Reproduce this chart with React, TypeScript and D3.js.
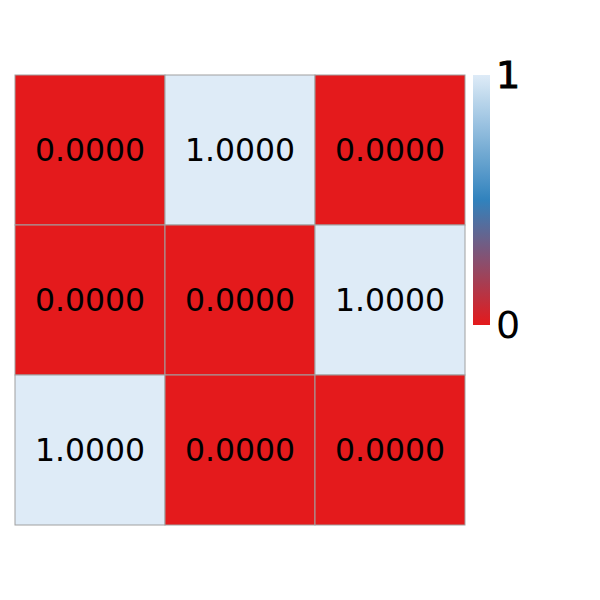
import React from "react";
import * as d3 from "d3";

const rows = ["r1", "r2", "r3"];
const cols = ["c1", "c2", "c3"];
const values: number[][] = [
  [0, 1, 0],
  [0, 0, 1],
  [1, 0, 0],
];
const legendTicks = [0, 1];

export default function App() {
  const W = 600, H = 600;
  const x = d3.scaleBand<string>().domain(cols).range([15, 465]);
  const y = d3.scaleBand<string>().domain(rows).range([75, 525]);
  const color = d3
    .scaleLinear<string>()
    .domain([0, 0.5, 1])
    .range(["#e41a1c", "#3182bd", "#deebf7"]);
  const ly = d3.scaleLinear().domain([0, 1]).range([325, 75]);
  const stops = d3.range(0, 1.0001, 0.05);
  return (
    <svg width={W} height={H} style={{ position: "absolute", left: 0, top: 0 }}>
      <defs>
        <linearGradient id="cb" x1="0" y1="1" x2="0" y2="0">
          {stops.map((s) => (
            <stop key={s} offset={s} stopColor={color(s)} />
          ))}
        </linearGradient>
      </defs>
      {values.map((row, i) =>
        row.map((v, j) => (
          <g key={`${i}-${j}`}>
            <rect
              x={x(cols[j])}
              y={y(rows[i])}
              width={x.bandwidth()}
              height={y.bandwidth()}
              fill={color(v)}
              stroke="#a0a0a0"
              strokeWidth={1}
            />
            <text
              x={(x(cols[j]) as number) + x.bandwidth() / 2}
              y={(y(rows[i]) as number) + y.bandwidth() / 2}
              textAnchor="middle"
              dominantBaseline="central"
              fontFamily="DejaVu Sans"
              fontSize={31.5}
              fill="#000"
            >
              {v.toFixed(4)}
            </text>
          </g>
        ))
      )}
      <rect x={473} y={ly(1)} width={17} height={ly(0) - ly(1)} fill="url(#cb)" />
      {legendTicks.map((t) => (
        <text
          key={t}
          x={496}
          y={ly(t)}
          dominantBaseline="central"
          fontFamily="DejaVu Sans"
          fontSize={38}
          fill="#000"
          stroke="#000"
          strokeWidth={t === 1 ? 1 : 0}
        >
          {t}
        </text>
      ))}
    </svg>
  );
}
